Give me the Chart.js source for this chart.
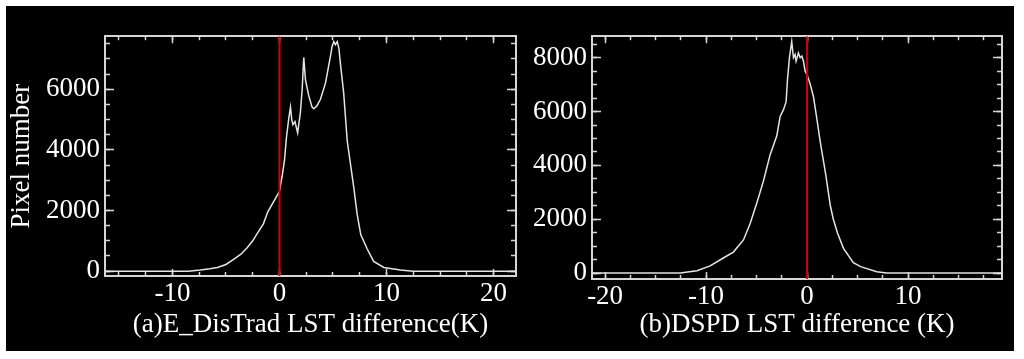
<!DOCTYPE html>
<html>
<head>
<meta charset="utf-8">
<script src="https://cdn.jsdelivr.net/npm/chart.js@4.4.1/dist/chart.umd.min.js"></script>
<style>
html,body{margin:0;padding:0;background:#fff;}
#bg{position:absolute;left:6px;top:6px;width:1008px;height:345px;background:#000;}
canvas{position:absolute;top:6px;}
#ca{left:6px;}
#cb{left:518px;}
</style>
</head>
<body>
<div id="bg"></div>
<canvas id="ca" width="512" height="345"></canvas>
<canvas id="cb" width="496" height="345"></canvas>
<script>
// (a) E_DisTrad histogram
const aDiff  = [-16.3, -8.5, -7.4, -6.5, -5.8, -5.0, -4.25, -3.6, -3.0, -2.5, -2.1, -1.5, -1.1, -0.53, 0.0, 0.15, 0.25, 0.47, 0.65, 0.87, 1.03, 1.15, 1.26, 1.45, 1.7, 1.96, 2.12, 2.27, 2.43, 2.74, 3.05, 3.2, 3.5, 3.83, 4.3, 4.6, 4.77, 4.92, 5.08, 5.23, 5.4, 5.55, 5.7, 6.0, 6.33, 6.95, 7.26, 7.6, 8.2, 8.8, 9.75, 11.3, 12.5, 22.1];
const aCount = [0, 0, 40, 80, 120, 220, 400, 560, 780, 1000, 1230, 1560, 1950, 2300, 2630, 2950, 3130, 3660, 4400, 5040, 5410, 5000, 4830, 4930, 4560, 5250, 5990, 7050, 6310, 5780, 5410, 5355, 5450, 5670, 6200, 6780, 7100, 7420, 7570, 7470, 7570, 7360, 6830, 5880, 4300, 2750, 1870, 1200, 730, 320, 120, 40, 0, 0];

// (b) DSPD histogram
const bDiff  = [-21.3, -12.5, -12.2, -10.9, -9.6, -8.3, -7.3, -6.3, -5.64, -4.98, -4.33, -3.66, -3.0, -2.67, -2.35, -2.08, -1.95, -1.75, -1.52, -1.35, -1.19, -1.09, -0.86, -0.69, -0.52, -0.36, -0.2, 0.03, 0.3, 0.63, 0.96, 1.29, 1.85, 2.3, 2.6, 3.0, 3.6, 4.58, 5.3, 6.9, 7.9, 19.3];
const bCount = [0, 0, 20, 85, 265, 560, 780, 1230, 1840, 2600, 3410, 4400, 5100, 5820, 6060, 6360, 7150, 8000, 8600, 8000, 8120, 7870, 8180, 8000, 8060, 7870, 7510, 7330, 7030, 6550, 5750, 4900, 3650, 2500, 2000, 1500, 920, 390, 240, 50, 0, 0];

// axis ranges and labelled ticks
const aRange = {xMin: -16.3, xMax: 22.1, yMin: -160, yMax: 7750};
const bRange = {xMin: -21.3, xMax: 19.3, yMin: -220, yMax: 8800};
const aXTicks = [-10, 0, 10, 20];
const bXTicks = [-20, -10, 0, 10];
const aYTicks = [0, 2000, 4000, 6000];
const bYTicks = [0, 2000, 4000, 6000, 8000];
const xMinorStep = 2.5;
const yMinorStep = 500;

const aTitle = '(a)E_DisTrad LST difference(K)';
const bTitle = '(b)DSPD LST difference (K)';
const yTitle = 'Pixel number';

const FG = '#d6d6d6';
const FONT = '"Liberation Serif","Times New Roman",serif';

function sized(w, h) {
  return function(s) { if (w != null) s.width = w; if (h != null) s.height = h; };
}
function steps(min, max, step) {
  const out = [];
  for (let v = Math.ceil(min / step) * step; v <= max; v += step) out.push({value: v});
  return out;
}
function fixedTicks(vals) {
  return function(s) { s.ticks = vals.map(v => ({value: v})); };
}
function minorTicks(step) {
  return function(s) { s.ticks = steps(s.min, s.max, step); };
}

// unlabeled axis that only draws inward tick marks
function tickAxis(pos, min, max, build, len, weight, frame) {
  const horiz = pos === 'top' || pos === 'bottom';
  return {
    type: 'linear', position: pos, min: min, max: max, weight: weight,
    grid: {drawOnChartArea: false, tickLength: -len, tickColor: FG, tickWidth: 1.5},
    border: {display: !!frame, color: FG, width: 2},
    ticks: {display: false, autoSkip: false},
    afterBuildTicks: build,
    afterFit: horiz ? sized(null, 0) : sized(0, null)
  };
}

function makePanel(id, xs, ys, r, cfg) {
  const pts = xs.map((x, i) => ({x: x, y: ys[i]}));
  const scales = {
    x: {
      type: 'linear', position: 'bottom', min: r.xMin, max: r.xMax, weight: 1,
      grid: {drawOnChartArea: false, tickLength: -7, tickColor: FG, tickWidth: 1.5},
      border: {display: true, color: FG, width: 2},
      ticks: {autoSkip: false, maxRotation: 0, color: '#fff',
              font: {family: FONT, size: 27}, padding: 9, callback: v => String(v)},
      afterBuildTicks: fixedTicks(cfg.xTicks),
      title: {display: true, text: cfg.xTitle, color: '#fff', font: {family: FONT, size: 27}, padding: {top: 0, bottom: 10}},
      afterFit: sized(null, cfg.xH)
    },
    x2: tickAxis('bottom', r.xMin, r.xMax, minorTicks(xMinorStep), 4, 0),
    xt: tickAxis('top', r.xMin, r.xMax, fixedTicks(cfg.xTicks), 7, 1, true),
    xt2: tickAxis('top', r.xMin, r.xMax, minorTicks(xMinorStep), 4, 0),
    y: {
      type: 'linear', position: 'left', min: r.yMin, max: r.yMax, weight: 1,
      grid: {drawOnChartArea: false, tickLength: -9, tickColor: FG, tickWidth: 1.5},
      border: {display: true, color: FG, width: 2},
      ticks: {autoSkip: false, color: '#fff',
              font: {family: FONT, size: 27}, padding: 14, callback: v => String(v)},
      afterBuildTicks: fixedTicks(cfg.yTicks),
      title: {display: !!cfg.yTitle, text: cfg.yTitle || '', color: '#fff', font: {family: FONT, size: 27}, padding: 0},
      afterFit: sized(cfg.yW, null)
    },
    y2: tickAxis('left', r.yMin, r.yMax, minorTicks(yMinorStep), 5, 0),
    yr: tickAxis('right', r.yMin, r.yMax, fixedTicks(cfg.yTicks), 9, 1, true),
    yr2: tickAxis('right', r.yMin, r.yMax, minorTicks(yMinorStep), 5, 0)
  };
  return new Chart(document.getElementById(id), {
    type: 'line',
    data: {datasets: [
      {data: [{x: 0, y: r.yMin}, {x: 0, y: r.yMax}], borderColor: '#d40000', borderWidth: 2, pointRadius: 0, xAxisID: 'x', yAxisID: 'y'},
      {data: pts, borderColor: '#e4e4e4', borderWidth: 1.5, pointRadius: 0, tension: 0, xAxisID: 'x', yAxisID: 'y'}
    ]},
    options: {
      responsive: false, animation: false, events: [],
      layout: {padding: cfg.pad},
      plugins: {legend: {display: false}, tooltip: {enabled: false}},
      scales: scales
    }
  });
}

makePanel('ca', aDiff, aCount, aRange, {xTitle: aTitle, yTitle: yTitle, xTicks: aXTicks, yTicks: aYTicks, yW: 99, xH: 75, pad: {left: 0, right: 2, top: 22, bottom: 0}});
makePanel('cb', bDiff, bCount, bRange, {xTitle: bTitle, xTicks: bXTicks, yTicks: bYTicks, yW: 74, xH: 72, pad: {left: 0, right: 12, top: 25, bottom: 0}});
</script>
</body>
</html>
